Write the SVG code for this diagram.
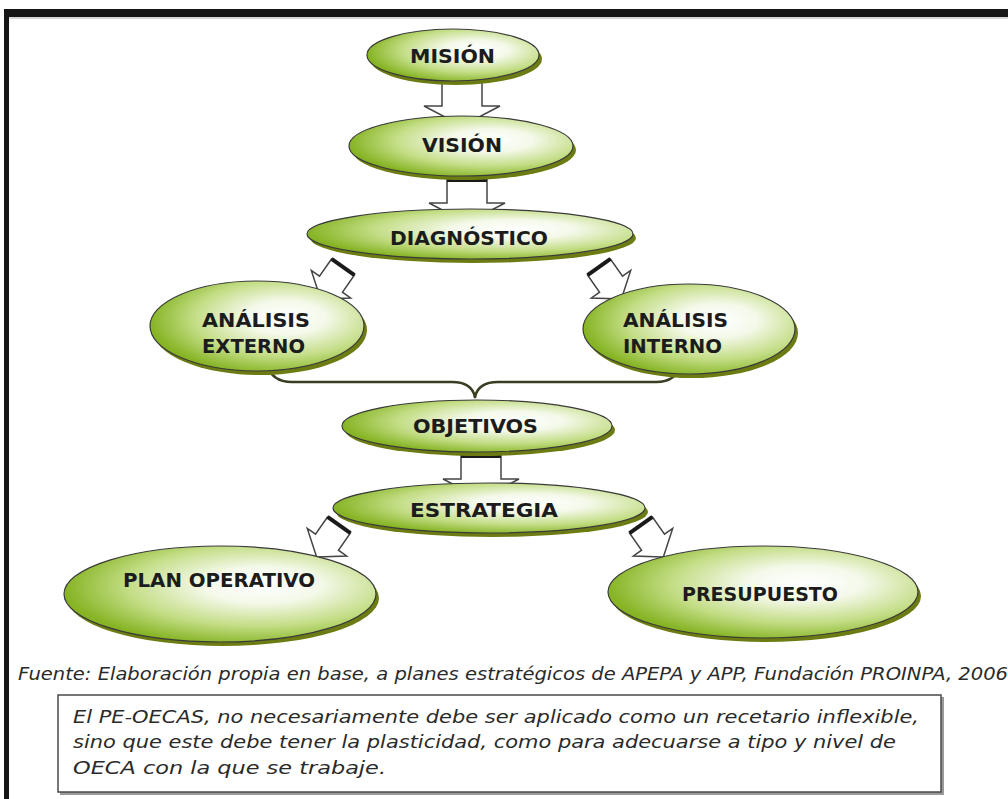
<svg xmlns="http://www.w3.org/2000/svg" width="1008" height="799" viewBox="0 0 1008 799">
  <defs>
    <radialGradient id="leaf" cx="0.62" cy="0.42" r="0.62" fx="0.64" fy="0.4">
      <stop offset="0" stop-color="#ffffff"/>
      <stop offset="0.3" stop-color="#f4f9ea"/>
      <stop offset="0.68" stop-color="#c3dd85"/>
      <stop offset="1" stop-color="#86b424"/>
    </radialGradient>
    <style>
      .shadow { fill: #6d7c12; }
      .node { fill: url(#leaf); stroke: #3a3a3a; stroke-width: 1.2; }
      .label { font-family: "DejaVu Sans Condensed", "DejaVu Sans", sans-serif; font-weight: bold; font-size: 19.5px; fill: #1c1c1c; }
      .arrow { fill: #ffffff; stroke: #454545; stroke-width: 1.5; stroke-linejoin: miter; }
      .base { stroke: #1a1a1a; stroke-width: 4; }
      .brace { fill: none; stroke: #3a3d22; stroke-width: 2.6; stroke-linecap: round; }
      .note { font-family: "DejaVu Sans", sans-serif; font-style: italic; fill: #2a2a2a; }
    </style>
    <!-- hollow block arrow, pointing down, origin at the middle of its base -->
    <path id="dropArrow" class="arrow" d="M -20 0 L -20 24 L -38 24 L 0 44 L 38 24 L 20 24 L 20 0 Z"/>
    <path id="slantArrow" class="arrow" d="M -14 0 L -14 21 L -24 21 L 0 39 L 24 21 L 14 21 L 14 0 Z"/>
  </defs>

  <rect width="1008" height="799" fill="#ffffff"/>

  <!-- frame -->
  <rect x="4" y="9" width="1004" height="8" fill="#161616"/>
  <rect x="4" y="9" width="5" height="790" fill="#161616"/>
  <line x1="9" y1="18" x2="1008" y2="18" stroke="#b0b0b0" stroke-width="1"/>

  <!-- connectors -->
  <g id="connectors">
    <use href="#dropArrow" transform="translate(462 82)"/>
    <g transform="translate(467 179)">
      <use href="#dropArrow"/>
      <line class="base" x1="-20" y1="1" x2="20" y2="1"/>
    </g>
    <g transform="translate(343 267) rotate(35)">
      <use href="#slantArrow"/>
      <line class="base" x1="-14" y1="0" x2="14" y2="0"/>
    </g>
    <g transform="translate(599 267) rotate(-35)">
      <use href="#slantArrow"/>
      <line class="base" x1="-14" y1="0" x2="14" y2="0"/>
    </g>
    <path class="brace" d="M 267 364 C 270 376 278 382 292 382 L 452 382 C 466 382 473 388 475 397"/>
    <path class="brace" d="M 681 364 C 678 376 670 382 656 382 L 498 382 C 484 382 477 388 475 397"/>
    <g transform="translate(481 455)">
      <use href="#dropArrow"/>
      <line class="base" x1="-20" y1="1" x2="20" y2="1"/>
    </g>
    <g transform="translate(339 525) rotate(35)">
      <use href="#slantArrow"/>
      <line class="base" x1="-14" y1="0" x2="14" y2="0"/>
    </g>
    <g transform="translate(641 525) rotate(-35)">
      <use href="#slantArrow"/>
      <line class="base" x1="-14" y1="0" x2="14" y2="0"/>
    </g>
  </g>

  <!-- nodes -->
  <g id="mision">
    <ellipse class="shadow" cx="456" cy="59" rx="86" ry="26"/>
    <ellipse class="node" cx="453" cy="55" rx="86" ry="26"/>
    <text class="label" x="410" y="63" textLength="85" lengthAdjust="spacingAndGlyphs">MISIÓN</text>
  </g>
  <g id="vision">
    <ellipse class="shadow" cx="464" cy="150" rx="112" ry="30"/>
    <ellipse class="node" cx="461" cy="146" rx="112" ry="30"/>
    <text class="label" x="422" y="152" textLength="80" lengthAdjust="spacingAndGlyphs">VISIÓN</text>
  </g>
  <g id="diagnostico">
    <ellipse class="shadow" cx="473" cy="238" rx="163" ry="25"/>
    <ellipse class="node" cx="470" cy="234" rx="163" ry="25"/>
    <text class="label" x="390" y="245" textLength="158" lengthAdjust="spacingAndGlyphs">DIAGNÓSTICO</text>
  </g>
  <g id="analisis-externo">
    <ellipse class="shadow" cx="260" cy="330" rx="107" ry="45"/>
    <ellipse class="node" cx="257" cy="326" rx="107" ry="45"/>
    <text class="label" x="202" y="327" textLength="108" lengthAdjust="spacingAndGlyphs">ANÁLISIS</text>
    <text class="label" x="202" y="353" textLength="103" lengthAdjust="spacingAndGlyphs">EXTERNO</text>
  </g>
  <g id="analisis-interno">
    <ellipse class="shadow" cx="692" cy="333" rx="106" ry="45"/>
    <ellipse class="node" cx="689" cy="329" rx="106" ry="45"/>
    <text class="label" x="623" y="327" textLength="105" lengthAdjust="spacingAndGlyphs">ANÁLISIS</text>
    <text class="label" x="623" y="353" textLength="99" lengthAdjust="spacingAndGlyphs">INTERNO</text>
  </g>
  <g id="objetivos">
    <ellipse class="shadow" cx="480" cy="430" rx="135" ry="26"/>
    <ellipse class="node" cx="477" cy="426" rx="135" ry="26"/>
    <text class="label" x="413" y="433" textLength="125" lengthAdjust="spacingAndGlyphs">OBJETIVOS</text>
  </g>
  <g id="estrategia">
    <ellipse class="shadow" cx="492" cy="512" rx="156" ry="25"/>
    <ellipse class="node" cx="489" cy="508" rx="156" ry="25"/>
    <text class="label" x="410" y="517" textLength="148" lengthAdjust="spacingAndGlyphs">ESTRATEGIA</text>
  </g>
  <g id="plan-operativo">
    <ellipse class="shadow" cx="223" cy="598" rx="156" ry="48"/>
    <ellipse class="node" cx="220" cy="594" rx="156" ry="48"/>
    <text class="label" x="123" y="587" textLength="192" lengthAdjust="spacingAndGlyphs">PLAN OPERATIVO</text>
  </g>
  <g id="presupuesto">
    <ellipse class="shadow" cx="766" cy="596" rx="155" ry="46"/>
    <ellipse class="node" cx="763" cy="592" rx="155" ry="46"/>
    <text class="label" x="682" y="601" textLength="156" lengthAdjust="spacingAndGlyphs">PRESUPUESTO</text>
  </g>

  <!-- source line -->
  <text class="note" x="18" y="680" font-size="17" textLength="990" lengthAdjust="spacingAndGlyphs">Fuente: Elaboración propia en base, a planes estratégicos de APEPA y APP,  Fundación PROINPA, 2006</text>

  <!-- remark box -->
  <g id="remark">
    <rect x="60" y="697" width="884" height="98" fill="#9a9a9a"/>
    <rect x="58" y="695" width="883" height="97" fill="#ffffff" stroke="#4a4a4a" stroke-width="1.5"/>
    <text class="note" font-size="18" x="73" y="723" textLength="846" lengthAdjust="spacingAndGlyphs">El PE-OECAS, no necesariamente debe ser aplicado como un recetario inflexible,</text>
    <text class="note" font-size="18" x="73" y="748" textLength="823" lengthAdjust="spacingAndGlyphs">sino que este debe tener la plasticidad, como para adecuarse a tipo y nivel de</text>
    <text class="note" font-size="18" x="73" y="774" textLength="313" lengthAdjust="spacingAndGlyphs">OECA con la que se trabaje.</text>
  </g>
</svg>
